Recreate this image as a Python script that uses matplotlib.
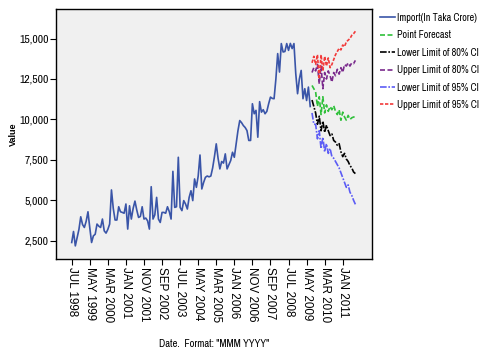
import matplotlib
matplotlib.use("Agg")
import numpy as np
import pandas as pd
from matplotlib import pyplot as plt
from matplotlib import font_manager
from matplotlib.ticker import FuncFormatter

# horizontal texts in the original are condensed; use a narrow face if one is installed
names = sorted({f.name for f in font_manager.fontManager.ttflist})
narrow = [n for n in names if "Narrow" in n or "Condensed" in n]
if narrow:
    h_family = [narrow[0], 'Liberation Sans', 'DejaVu Sans']
    h_size = 8.4
    leg_size = 7.3
else:
    h_family = ['Liberation Sans', 'DejaVu Sans']
    h_size = 7.6
    leg_size = 6.4
plt.rcParams['font.family'] = h_family

# monthly import, JUL 1998 .. JUL 2009 (In Taka Crore)
observed = [2390, 3070, 2180, 2700, 3200, 3980, 3500, 3320, 3700, 4290,
            3300, 2390, 2800, 2900, 3530, 3400, 3320, 3840, 3110, 2970,
            3200, 3530, 5640, 4500, 3780, 3780, 4600, 4290, 4250, 4200,
            4770, 3220, 4660, 3840, 4500, 4950, 4400, 3940, 4000, 4600,
            3840, 3900, 3730, 3220, 5840, 3840, 4100, 5180, 3840, 3630,
            4250, 4250, 4200, 4600, 4300, 3840, 6790, 4560, 4600, 7660,
            4560, 4360, 4980, 4770, 4460, 5180, 5590, 4980, 6320, 5800,
            6500, 7800, 5700, 6100, 6420, 6500, 6450, 6500, 7000, 7700,
            8490, 7600, 6940, 7400, 7300, 7870, 6940, 7200, 7460, 7970,
            7660, 8500, 9300, 9930, 9800, 9620, 9500, 9310, 8700, 8700,
            10970, 10350, 10560, 8900, 11100, 10450, 10600, 10350, 10500, 10970,
            11380, 11300, 11280, 12500, 14070, 12930, 14690, 14170, 14200, 14690,
            14270, 14700, 14380, 14690, 12830, 11590, 12500, 13030, 11280, 11900,
            11170, 12000, 10800]

# forecast, AUG 2009 .. AUG 2011
point_fc = [12100, 11900, 11700, 10800, 11400, 10300, 11400, 10400, 10900, 10500,
            10800, 10600, 10850, 10500, 10300, 10600, 9950, 10450, 10150, 9950,
            10250, 10000, 10100, 10150, 10150]
lower80 = [11200, 10800, 10400, 9700, 10200, 9300, 9900, 9200, 9650, 9300,
           9000, 9100, 8700, 8600, 8400, 8500, 8000, 7700, 7900, 7550,
           7400, 7150, 7000, 6750, 6650]
upper80 = [12900, 13200, 13000, 13400, 12200, 13300, 11900, 12900, 12500, 13000,
           12700, 12300, 12900, 12700, 13100, 12800, 13200, 12900, 13400, 13300,
           13500, 13300, 13500, 13450, 13650]
lower95 = [10400, 9700, 9700, 8800, 9300, 8200, 8900, 8000, 8500, 7900,
           8200, 7700, 7600, 7400, 7200, 7000, 6700, 6400, 6100, 5800,
           5950, 5500, 5300, 5000, 4750]
upper95 = [13500, 13900, 13400, 14000, 12500, 14000, 13000, 13900, 13300, 13800,
           13200, 13400, 13700, 14000, 14200, 14400, 14300, 14600, 14500, 14800,
           14900, 15000, 15200, 15300, 15450]

tick_dates = pd.date_range("1998-07-01", periods=16, freq="10MS")
tick_labels = [d.strftime("%b %Y").upper() for d in tick_dates]
yticks = [2500, 5000, 7500, 10000, 12500, 15000]

start = pd.Timestamp("1998-07-01")
def month_idx(d):
    return (d.year - start.year) * 12 + (d.month - start.month)

x_obs = np.arange(len(observed))
x_fc = np.arange(len(observed), len(observed) + len(point_fc))
tick_pos = [month_idx(d) for d in tick_dates]

fig = plt.figure(figsize=(4.81, 3.5), dpi=100)
ax = fig.add_axes([0.1164, 0.2614, 0.657, 0.7116])
ax.set_facecolor("#f0f0f0")

ax.plot(x_obs, observed, color="#3a55a8", lw=1.2, label="Import(In Taka Crore)")
ax.plot(x_fc, point_fc, color="#2fc03a", lw=1.2, dashes=(3, 1.5), label="Point Forecast")
ax.plot(x_fc, lower80, color="black", lw=1.2, dashes=(4, 1, 1, 1), label="Lower Limit of 80% CI")
ax.plot(x_fc, upper80, color="#7a2a8c", lw=1.2, dashes=(3, 1.5), label="Upper Limit of 80% CI")
ax.plot(x_fc, lower95, color="#5c5cf5", lw=1.2, dashes=(4, 1, 1, 1), label="Lower Limit of 95% CI")
ax.plot(x_fc, upper95, color="#f23a3a", lw=1.2, dashes=(2, 1), label="Upper Limit of 95% CI")

ax.set_xlim(-8.7, 166.2)
ax.set_ylim(1400, 16800)
ax.set_yticks(yticks)
ax.yaxis.set_major_formatter(FuncFormatter(lambda v, p: f"{int(v):,}"))
ax.set_xticks(tick_pos)
ax.set_xticklabels(tick_labels, rotation=270, family=['Liberation Sans', 'DejaVu Sans'], fontsize=8.4)
ax.tick_params(axis='y', labelsize=h_size, length=4, width=0.8, direction='out', pad=1)
ax.tick_params(axis='x', length=4, width=0.8, direction='out', pad=2)
for s in ax.spines.values():
    s.set_linewidth(1.0)

ax.set_ylabel("Value", fontsize=6.5, fontweight='bold', family=['Liberation Sans', 'DejaVu Sans'], labelpad=1)
ax.set_xlabel('Date.  Format: "MMM YYYY"', fontsize=7.6, fontweight='bold', labelpad=12)

fig.legend(loc='upper left', bbox_to_anchor=(0.789, 0.963), frameon=False,
           fontsize=leg_size, handlelength=1.5, handletextpad=0.25, labelspacing=0.73,
           borderaxespad=0, borderpad=0)

fig.savefig("out.png", dpi=100)
